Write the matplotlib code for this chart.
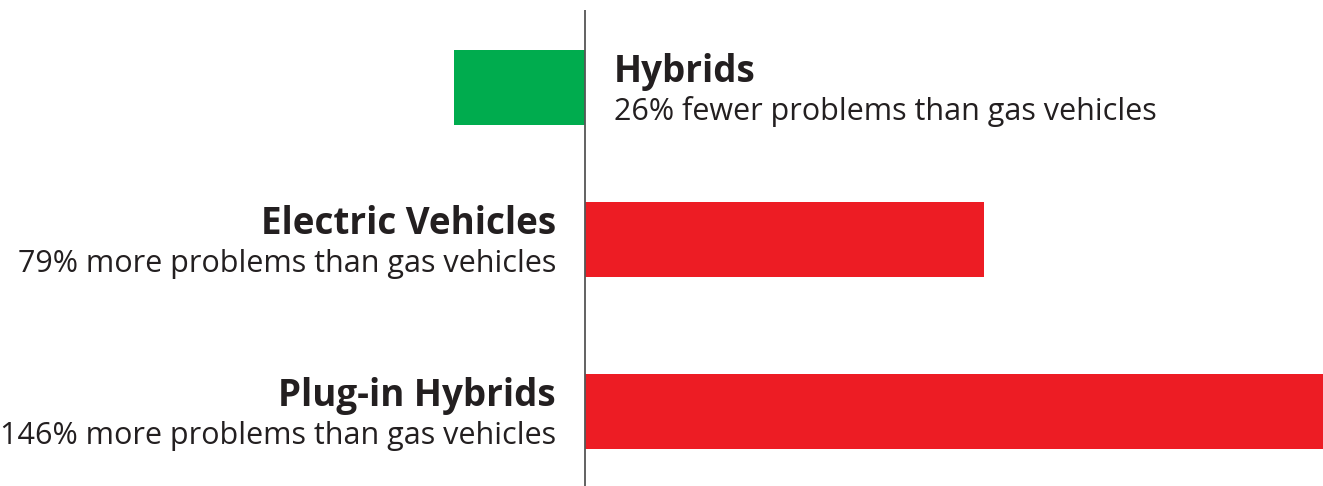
import matplotlib.pyplot as plt

categories = ["Hybrids", "Electric Vehicles", "Plug-in Hybrids"]
values = [-26, 79, 146]
notes = [
    "26% fewer problems than gas vehicles",
    "79% more problems than gas vehicles",
    "146% more problems than gas vehicles",
]

green = "#00ac4e"
red = "#ed1c24"

# vertical layout in pixel-like units (top = 0)
ypos = [87.5, 239, 411]
bar_h = 75

plt.rcParams["font.family"] = ["Open Sans", "DejaVu Sans"]

fig = plt.figure(figsize=(13.23, 4.86), dpi=100)
ax = fig.add_axes([0, 0, 1, 1])

px_per_unit = 738 / max(values)
ax.set_xlim(-585 / px_per_unit, max(values))
ax.set_ylim(486, 0)

colors = [green if v < 0 else red for v in values]
ax.barh(ypos, values, height=bar_h, color=colors)

ax.plot([0, 0], [10, 486], color="#555555", lw=1.3, solid_capstyle="butt")

gap = 29 / px_per_unit
for y, v, name, note in zip(ypos, values, categories, notes):
    if v < 0:
        x, ha = gap, "left"
    else:
        x, ha = -gap, "right"
    ax.text(x, y - 5.5, name, ha=ha, va="baseline", fontsize=26.5,
            fontweight="bold", color="#231f20")
    ax.text(x, y + 32.5, note, ha=ha, va="baseline", fontsize=22,
            color="#231f20")

ax.axis("off")
fig.savefig("out.png", dpi=100)
